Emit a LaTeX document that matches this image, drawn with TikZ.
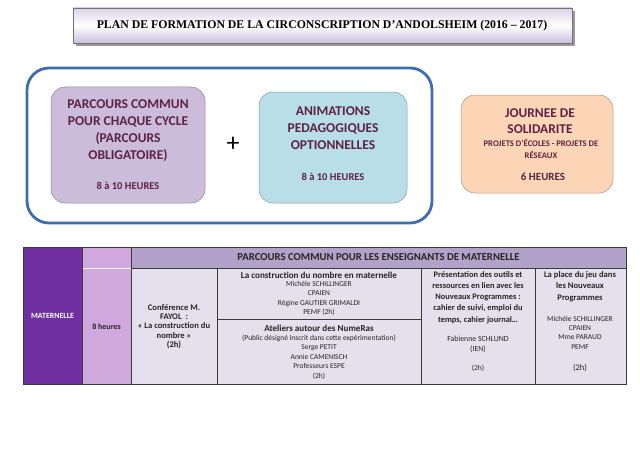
\documentclass[tikz,border=0pt]{standalone}
\usepackage{fontspec}
\setmainfont{Carlito}
\newfontfamily\timesf{Liberation Serif}
\usetikzlibrary{shadows}
\definecolor{maroon}{HTML}{5E2246}
\definecolor{frameblue}{HTML}{3F6CAE}
\definecolor{boxpurple}{HTML}{CBBCD9}
\definecolor{boxblue}{HTML}{B8DEE8}
\definecolor{boxorange}{HTML}{FBD5B5}
\definecolor{matpurple}{HTML}{7030A0}
\definecolor{hourpurple}{HTML}{CFA8DD}
\definecolor{headlav}{HTML}{B2A1C8}
\definecolor{celllav}{HTML}{E4E0EC}
\definecolor{tblline}{HTML}{3A3A3A}
\definecolor{titlelav}{HTML}{C9BEDD}
\tikzset{
  x=1pt,y=-1pt,
  topbox/.style={draw=#1!70!black, line width=0.5pt, rounded corners=14pt},
  bigtxt/.style={text=maroon, font=\bfseries\fontsize{13.5}{17}\selectfont, align=center, inner sep=0pt},
  hourtxt/.style={text=maroon, font=\bfseries\fontsize{10.5}{12}\selectfont, align=center, inner sep=0pt},
  cell/.style={draw=tblline, line width=0.8pt},
  ttl/.style={font=\bfseries\fontsize{9.1}{11.3}\selectfont, align=center, inner sep=0pt, text=black!85},
  nm/.style={font=\fontsize{7.5}{9.4}\selectfont, align=center, inner sep=0pt, text=black!85},
}
\begin{document}
\begin{tikzpicture}
\useasboundingbox (0,0) rectangle (640,452);
\fill[white] (0,0) rectangle (640,452);
% title bar
\fill[black!40] (76,11) rectangle (575,46);
\shade[top color=titlelav!70, bottom color=titlelav, middle color=white, draw=black!55, line width=0.8pt]
  (73,8) rectangle (572,43);
\node[font=\timesf\bfseries\fontsize{11.8}{13}\selectfont, inner sep=0pt] (title) at (322,26)
  {PLAN DE FORMATION DE LA CIRCONSCRIPTION D’ANDOLSHEIM (2016 – 2017)};
% blue frame
\draw[frameblue, line width=2.8pt, rounded corners=22pt] (27,68) rectangle (432,223);
% boxes
\draw[topbox=boxpurple, fill=boxpurple] (51,87) rectangle (205,203);
\draw[topbox=boxblue, fill=boxblue] (259,92) rectangle (407,203);
\draw[topbox=boxorange, fill=boxorange] (461,95) rectangle (613,193);
\node[bigtxt] (pc) at (128,130.5) {PARCOURS COMMUN\\POUR CHAQUE CYCLE\\(PARCOURS\\OBLIGATOIRE)};
\node[hourtxt] (pch) at (128,186) {8 à 10 HEURES};
\node[font=\fontsize{26}{26}\selectfont, inner sep=0pt] (plus) at (233,144) {+};
\node[bigtxt] (an) at (333,128.5) {ANIMATIONS\\PEDAGOGIQUES\\OPTIONNELLES};
\node[hourtxt] (anh) at (333,177) {8 à 10 HEURES};
\node[bigtxt, font=\bfseries\fontsize{13.4}{16}\selectfont] (js) at (540,121) {JOURNEE DE\\SOLIDARITE};
\node[text=maroon, font=\bfseries\fontsize{8.6}{11.5}\selectfont, align=center, inner sep=0pt] (pe) at (541,149)
  {PROJETS D’ÉCOLES - PROJETS DE\\RÉSEAUX};
\node[hourtxt, font=\bfseries\fontsize{11}{12}\selectfont] (jsh) at (543,177) {6 HEURES};
% table
\fill[matpurple] (23,247) rectangle (82,384);
\fill[hourpurple] (82,247) rectangle (131,384);
\fill[headlav] (131,247) rectangle (626,268);
\fill[celllav] (131,268) rectangle (626,384);
\draw[white, line width=1pt] (82.5,268) -- (130.5,268);
\draw[cell] (23,247) rectangle (626,384);
\draw[cell] (82,247) -- (82,384);
\draw[cell] (131,247) -- (131,384);
\draw[cell] (131,268) -- (626,268);
\draw[cell] (217,268) -- (217,384);
\draw[cell] (421,268) -- (421,384);
\draw[cell] (535,268) -- (535,384);
\draw[cell] (217,319) -- (421,319);
\node[font=\bfseries\fontsize{7.9}{8}\selectfont, text=white, inner sep=0pt] (mat) at (52.5,316) {MATERNELLE};
\node[ttl, font=\bfseries\fontsize{8}{10}\selectfont] (hrs) at (106.5,327) {8 heures};
\node[font=\bfseries\fontsize{10.7}{12}\selectfont, text=black!85, inner sep=0pt] (head) at (378.5,257.5)
  {PARCOURS COMMUN POUR LES ENSEIGNANTS DE MATERNELLE};
\node[ttl, font=\bfseries\fontsize{8.6}{9.4}\selectfont] (conf) at (174,326.5)
  {Conférence M.\\FAYOL~ :\\« La construction du\\nombre »\\(2h)};
\node[ttl] (cn) at (319,275) {La construction du nombre en maternelle};
\node[nm] (cnn) at (319,298.5) {Michèle SCHILLINGER\\CPAIEN\\Régine GAUTIER GRIMALDI\\PEMF (2h)};
\node[ttl] (at) at (319,328) {Ateliers autour des NumeRas};
\node[nm] (atn) at (319,357) {(Public désigné inscrit dans cette expérimentation)\\Serge PETIT\\Annie CAMENISCH\\Professeurs ESPE\\(2h)};
\node[ttl, font=\bfseries\fontsize{8.4}{11.2}\selectfont] (pr) at (478,297.5) {Présentation des outils et\\ressources en lien avec les\\Nouveaux Programmes :\\cahier de suivi, emploi du\\temps, cahier journal…};
\node[nm, font=\fontsize{7.8}{9.4}\selectfont] (prn) at (478,344.5) {Fabienne SCHLUND\\(IEN)};
\node[nm] (prh) at (478,368) {(2h)};
\node[ttl, font=\bfseries\fontsize{8.6}{11.3}\selectfont] (pl) at (580,286.5) {La place du jeu dans\\les Nouveaux\\Programmes};
\node[nm] (pln) at (580,332.5) {Michèle SCHILLINGER\\CPAIEN\\Mme PARAUD\\PEMF};
\node[nm, font=\fontsize{8.5}{9}\selectfont] (plh) at (580,368) {(2h)};
\end{tikzpicture}
\end{document}
